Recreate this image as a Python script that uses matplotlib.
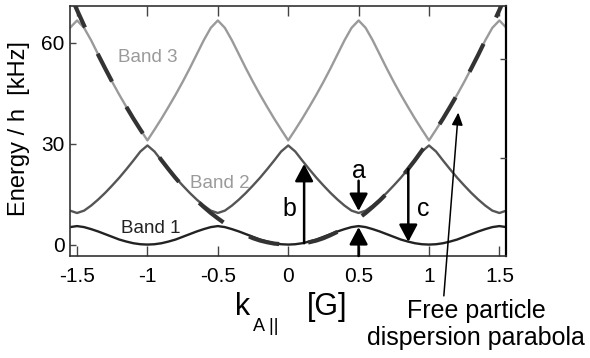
import matplotlib
matplotlib.use("Agg")
import matplotlib.pyplot as plt

plt.rcParams["font.family"] = ["Liberation Sans", "DejaVu Sans"]

# quasi-momentum in units of G
k = [-1.55, -1.5, -1.45, -1.4, -1.35, -1.3, -1.25, -1.2, -1.15, -1.1, -1.05,
     -1.0, -0.95, -0.9, -0.85, -0.8, -0.75, -0.7, -0.65, -0.6, -0.55,
     -0.5, -0.45, -0.4, -0.35, -0.3, -0.25, -0.2, -0.15, -0.1, -0.05,
     0.0, 0.05, 0.1, 0.15, 0.2, 0.25, 0.3, 0.35, 0.4, 0.45,
     0.5, 0.55, 0.6, 0.65, 0.7, 0.75, 0.8, 0.85, 0.9, 0.95,
     1.0, 1.05, 1.1, 1.15, 1.2, 1.25, 1.3, 1.35, 1.4, 1.45,
     1.5, 1.55]

# energies / h in kHz
band1 = [5.2, 5.5, 5.2, 4.6, 3.9, 3.1, 2.3, 1.5, 0.9, 0.4, 0.1,
         0.0, 0.1, 0.4, 0.9, 1.5, 2.3, 3.1, 3.9, 4.6, 5.2,
         5.5, 5.2, 4.6, 3.9, 3.1, 2.3, 1.5, 0.9, 0.4, 0.1,
         0.0, 0.1, 0.4, 0.9, 1.5, 2.3, 3.1, 3.9, 4.6, 5.2,
         5.5, 5.2, 4.6, 3.9, 3.1, 2.3, 1.5, 0.9, 0.4, 0.1,
         0.0, 0.1, 0.4, 0.9, 1.5, 2.3, 3.1, 3.9, 4.6, 5.2,
         5.5, 5.2]
band2 = [10.1, 9.4, 10.1, 11.6, 13.4, 15.4, 17.6, 19.9, 22.4, 25.0, 27.7,
         29.5, 27.7, 25.0, 22.4, 19.9, 17.6, 15.4, 13.4, 11.6, 10.1,
         9.4, 10.1, 11.6, 13.4, 15.4, 17.6, 19.9, 22.4, 25.0, 27.7,
         29.5, 27.7, 25.0, 22.4, 19.9, 17.6, 15.4, 13.4, 11.6, 10.1,
         9.4, 10.1, 11.6, 13.4, 15.4, 17.6, 19.9, 22.4, 25.0, 27.7,
         29.5, 27.7, 25.0, 22.4, 19.9, 17.6, 15.4, 13.4, 11.6, 10.1,
         9.4, 10.1]
band3 = [64.5, 66.7, 64.5, 60.8, 56.6, 52.4, 48.4, 44.6, 41.0, 37.5, 34.2,
         31.0, 34.2, 37.5, 41.0, 44.6, 48.4, 52.4, 56.6, 60.8, 64.5,
         66.7, 64.5, 60.8, 56.6, 52.4, 48.4, 44.6, 41.0, 37.5, 34.2,
         31.0, 34.2, 37.5, 41.0, 44.6, 48.4, 52.4, 56.6, 60.8, 64.5,
         66.7, 64.5, 60.8, 56.6, 52.4, 48.4, 44.6, 41.0, 37.5, 34.2,
         31.0, 34.2, 37.5, 41.0, 44.6, 48.4, 52.4, 56.6, 60.8, 64.5,
         66.7, 64.5]
free = [74.5, 69.8, 65.2, 60.8, 56.5, 52.4, 48.4, 44.6, 41.0, 37.5, 34.2,
        31.0, 28.0, 25.1, 22.4, 19.8, 17.4, 15.2, 13.1, 11.2, 9.4,
        7.8, 6.3, 5.0, 3.8, 2.8, 1.9, 1.2, 0.7, 0.3, 0.1,
        0.0, 0.1, 0.3, 0.7, 1.2, 1.9, 2.8, 3.8, 5.0, 6.3,
        7.8, 9.4, 11.2, 13.1, 15.2, 17.4, 19.8, 22.4, 25.1, 28.0,
        31.0, 34.2, 37.5, 41.0, 44.6, 48.4, 52.4, 56.5, 60.8, 65.2,
        69.8, 74.5]

xticks = [-1.5, -1, -0.5, 0, 0.5, 1, 1.5]
xticklabels = ["-1.5", "-1", "-0.5", "0", "0.5", "1", "1.5"]
yticks = [0, 30, 60]

W, H = 590, 358


def fx(px):
    return px / W


def fy(py):
    return 1 - py / H


fig = plt.figure(figsize=(5.9, 3.58), dpi=100)
ax = fig.add_axes([fx(70), fy(256), 436 / W, 250 / H])

ax.plot(k, band3, color="#9a9a9a", lw=1.7, zorder=2)
ax.plot(k, band2, color="#555555", lw=1.7, zorder=2)
ax.plot(k, band1, color="#222222", lw=1.7, zorder=2)
ax.plot(k, free, color="#333333", lw=3, dashes=(7.5, 7), zorder=3)

ax.set_xlim(-1.55, 1.547)
ax.set_ylim(-3.4, 71.0)
ax.set_xticks(xticks)
ax.set_xticklabels(xticklabels)
ax.set_yticks(yticks)
ax.tick_params(axis="x", direction="in", length=7, width=1, top=True,
               labelsize=15, pad=8, color="#444444")
ax.tick_params(axis="y", direction="in", length=4, width=1,
               labelsize=15, pad=4, color="#444444")
for s in ["left", "bottom", "top"]:
    ax.spines[s].set_color("#333333")
    ax.spines[s].set_linewidth(1.2)
ax.spines["right"].set_color("black")
ax.spines["right"].set_linewidth(1.6)

ax2 = ax.twinx()
ax2.set_ylim(-3.4, 71.0)
ax2.set_yticks([55.1, 25.9])
ax2.set_yticklabels([])
ax2.tick_params(axis="y", direction="in", length=4, width=1, color="#444444")
for s in ax2.spines.values():
    s.set_visible(False)

ax.text(-1.0, 55.7, "Band 3", color="#9a9a9a", fontsize=13.5, ha="center", va="center")
ax.text(-0.484, 18.2, "Band 2", color="#9a9a9a", fontsize=13.5, ha="center", va="center")
ax.text(-0.974, 4.9, "Band 1", color="#222222", fontsize=13.5, ha="center", va="center")

big = dict(arrowstyle="-|>,head_length=0.75,head_width=0.4", lw=1.8,
           color="black", shrinkA=0, shrinkB=0, mutation_scale=14)
ax.annotate("", xy=(0.5, 10.0), xytext=(0.5, 19.0), arrowprops=big, zorder=4)
ax.annotate("", xy=(0.5, 5.2), xytext=(0.5, -3.4), arrowprops=big, zorder=4,
            annotation_clip=False)
ax.annotate("", xy=(0.113, 24.0), xytext=(0.113, 0.4), arrowprops=big, zorder=4)
ax.annotate("", xy=(0.853, 0.8), xytext=(0.853, 22.5), arrowprops=big, zorder=4)
ax.text(0.5, 22.0, "a", fontsize=18, ha="center", va="center")
ax.text(0.01, 10.5, "b", fontsize=18, ha="center", va="center")
ax.text(0.96, 10.7, "c", fontsize=18, ha="center", va="center")

ax.annotate("Free particle\ndispersion parabola", xy=(1.208, 39.3),
            xytext=(1.336, -23.8), fontsize=18, ha="center", va="center",
            multialignment="center", annotation_clip=False,
            arrowprops=dict(arrowstyle="-|>,head_length=0.75,head_width=0.33",
                            lw=1.1, color="black", shrinkA=0, shrinkB=0,
                            mutation_scale=10, relpos=(0.35, 1.0)))

fig.text(fx(19), fy(129), "Energy / h  [kHz]", fontsize=17, rotation=90,
         ha="center", va="center")
fig.text(fx(235), fy(315), "k", fontsize=22, ha="left", va="baseline")
fig.text(fx(253), fy(331), "A ||", fontsize=13, ha="left", va="baseline")
fig.text(fx(307), fy(315), "[G]", fontsize=22, ha="left", va="baseline")

fig.savefig("out.png", dpi=100)
